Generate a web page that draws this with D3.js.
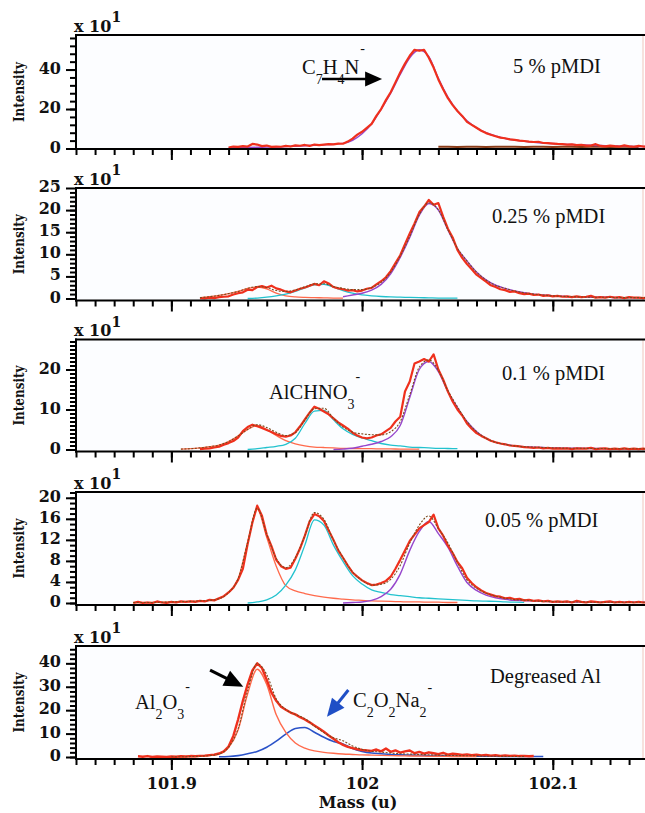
<!DOCTYPE html>
<html>
<head>
<meta charset="utf-8">
<script src="https://cdn.jsdelivr.net/npm/d3@7"></script>
<style>
  body { margin: 0; background: #fff; }
  .note { font-family: "Liberation Serif", "Times New Roman", serif; font-size: 20.5px; fill: #111; }
  .lab { font-family: "DejaVu Serif", serif; font-weight: bold; fill: #111; }
</style>
</head>
<body>
<svg id="chart" width="645" height="813"></svg>
<script>
var _ = null;

// mass grid of the measured spectra (u)
var massRaw = [
  101.88, 101.8825, 101.885, 101.8875, 101.89, 101.8925, 101.895, 101.8975, 101.9, 101.9025,
  101.905, 101.9075, 101.91, 101.9125, 101.915, 101.9175, 101.92, 101.9225, 101.925, 101.9275,
  101.93, 101.9325, 101.935, 101.9375, 101.94, 101.9425, 101.945, 101.9475, 101.95, 101.9525,
  101.955, 101.9575, 101.96, 101.9625, 101.965, 101.9675, 101.97, 101.9725, 101.975, 101.9775,
  101.98, 101.9825, 101.985, 101.9875, 101.99, 101.9925, 101.995, 101.9975, 102.0, 102.0025,
  102.005, 102.0075, 102.01, 102.0125, 102.015, 102.0175, 102.02, 102.0225, 102.025, 102.0275,
  102.03, 102.0325, 102.035, 102.0375, 102.04, 102.0425, 102.045, 102.0475, 102.05, 102.0525,
  102.055, 102.0575, 102.06, 102.0625, 102.065, 102.0675, 102.07, 102.0725, 102.075, 102.0775,
  102.08, 102.0825, 102.085, 102.0875, 102.09, 102.0925, 102.095, 102.0975, 102.1, 102.1025,
  102.105, 102.1075, 102.11, 102.1125, 102.115, 102.1175, 102.12, 102.1225, 102.125, 102.1275,
  102.13, 102.1325, 102.135, 102.1375, 102.14, 102.1425, 102.145, 102.1475, 102.15
];

// mass grid of the fitted peaks (u)
var massFit = [
  101.88, 101.885, 101.89, 101.895, 101.9, 101.905, 101.91, 101.915, 101.92, 101.925,
  101.93, 101.935, 101.94, 101.945, 101.95, 101.955, 101.96, 101.965, 101.97, 101.975,
  101.98, 101.985, 101.99, 101.995, 102.0, 102.005, 102.01, 102.015, 102.02, 102.025,
  102.03, 102.035, 102.04, 102.045, 102.05, 102.055, 102.06, 102.065, 102.07, 102.075,
  102.08, 102.085, 102.09, 102.095, 102.1, 102.105, 102.11, 102.115, 102.12, 102.125,
  102.13, 102.135, 102.14, 102.145, 102.15
];

// ---- 5 % pMDI (x 10 counts)
var raw5pct = [
  _, _, _, _, _, _, _, _, _, _,
  _, _, _, _, _, _, _, _, _, _,
  0.5, 1.0, 0.8, 1.2, 1.0, 2.3, 2.0, 1.2, 1.5, 0.8,
  1.0, 0.9, 1.3, 1.0, 1.6, 1.4, 1.8, 1.3, 2.0, 1.7,
  2.0, 2.2, 2.1, 2.5, 2.4, 3.5, 5.0, 7.0, 8.5, 10.5,
  12.5, 16.5, 20.0, 24.5, 28.5, 33.5, 38.5, 43.0, 47.0, 50.0,
  49.5, 50.0, 46.0, 41.0, 35.0, 30.0, 25.5, 22.0, 19.0, 16.5,
  13.5, 12.0, 10.5, 9.0, 7.8, 7.0, 6.2, 5.5, 5.2, 4.6,
  4.4, 4.0, 3.8, 3.5, 3.3, 3.4, 2.8, 2.7, 2.5, 2.3,
  2.2, 2.0, 2.1, 1.7, 1.9, 1.5, 1.5, 2.2, 1.3, 1.1,
  1.5, 1.2, 1.0, 1.6, 1.1, 0.9, 1.3, 1.0, 1.0
];
var c7h4n5pct = [
  _, _, _, _, _, _, _, _, _, _,
  0.3, 0.4, 0.5, 0.6, 0.7, 0.8, 1.0, 1.2, 1.4, 1.6,
  1.9, 2.2, 2.6, 4.2, 7.5, 12.5, 20.0, 28.0, 37.5, 46.0,
  50.0, 46.5, 35.5, 26.0, 19.0, 14.0, 10.5, 8.0, 6.3, 5.1,
  4.3, 3.7, 3.2, 2.8, 2.5, 2.2, 2.0, 1.8, 1.6, 1.5,
  1.3, 1.2, 1.1, 1.0, 1.0
];
var base5pct = [
  _, _, _, _, _, _, _, _, _, _,
  _, _, _, _, _, _, _, _, _, _,
  _, _, _, _, _, _, _, _, _, _,
  _, _, 0.9, 0.9, 0.8, 0.9, 0.9, 0.8, 0.9, 0.9,
  0.9, 0.8, 0.9, 0.9, 0.8, 0.9, 0.9, 0.8, 0.9, 0.9,
  0.8, 0.9, 0.9, 0.8, _
];

// ---- 0.25 % pMDI
var raw025 = [
  _, _, _, _, _, _, _, _, _, _,
  _, _, _, _, 0.1, 0.0, 0.2, 0.1, 0.3, 0.4,
  0.5, 0.9, 1.2, 1.4, 2.0, 1.9, 2.6, 2.8, 2.5, 2.9,
  2.3, 2.0, 1.6, 1.4, 1.8, 2.2, 2.5, 2.9, 3.3, 3.0,
  3.9, 3.4, 2.6, 2.3, 2.1, 1.8, 1.9, 1.6, 1.8, 2.2,
  2.4, 3.2, 3.9, 4.8, 6.2, 8.0, 9.8, 12.3, 14.7, 17.0,
  19.5, 20.8, 22.3, 21.2, 21.6, 18.5, 15.8, 13.8, 11.0, 9.2,
  7.8, 6.6, 5.4, 4.6, 3.8, 3.0, 2.6, 2.1, 1.9, 1.5,
  1.6, 1.2, 1.0, 1.1, 0.8, 0.9, 0.6, 0.7, 0.5, 0.6,
  0.4, 0.5, 0.3, 0.5, 0.3, 0.4, 0.6, 0.2, 0.3, 0.2,
  0.4, 0.2, 0.3, 0.1, 0.3, 0.2, 0.2, 0.1, 0.2
];
var al2o3025 = [
  _, _, _, _, _, _, _, 0.2, 0.4, 0.7,
  1.1, 1.6, 2.3, 2.6, 2.2, 1.2, 0.6, 0.35, 0.25, 0.2,
  0.15, 0.1, 0.1, _, _, _, _, _, _, _,
  _, _, _, _, _, _, _, _, _, _,
  _, _, _, _, _, _, _, _, _, _,
  _, _, _, _, _
];
var alchno3025 = [
  _, _, _, _, _, _, _, _, _, _,
  _, _, 0.0, 0.1, 0.3, 0.6, 1.0, 1.6, 2.4, 3.1,
  3.2, 2.6, 1.8, 1.2, 0.8, 0.6, 0.45, 0.35, 0.3, 0.25,
  0.2, 0.15, 0.1, 0.1, 0.1, _, _, _, _, _,
  _, _, _, _, _, _, _, _, _, _,
  _, _, _, _, _
];
var c7h4n025 = [
  _, _, _, _, _, _, _, _, _, _,
  _, _, _, _, _, _, _, _, _, _,
  _, _, 0.4, 0.8, 1.2, 1.9, 3.2, 5.6, 9.3, 13.8,
  18.8, 21.5, 20.0, 15.5, 11.3, 8.5, 6.0, 4.2, 3.0, 2.3,
  1.7, 1.3, 1.0, 0.8, 0.6, 0.5, 0.4, 0.35, 0.3, 0.3,
  0.25, 0.2, 0.2, 0.2, 0.2
];
var sum025 = [
  _, _, _, _, _, _, _, 0.2, 0.4, 0.7,
  1.1, 1.6, 2.3, 2.7, 2.5, 1.8, 1.6, 1.95, 2.65, 3.3,
  3.35, 2.7, 2.3, 2.0, 2.0, 2.5, 3.65, 5.95, 9.6, 14.05,
  19.0, 21.65, 20.1, 15.6, 11.4, 8.5, 6.0, 4.2, 3.0, 2.3,
  1.7, 1.3, 1.0, 0.8, 0.6, 0.5, 0.4, 0.35, 0.3, 0.3,
  0.25, 0.2, 0.2, 0.2, 0.2
];

// ---- 0.1 % pMDI
var raw01 = [
  _, _, _, _, _, _, _, _, _, _,
  _, _, _, _, 0.1, 0.2, 0.3, 0.5, 0.7, 1.2,
  1.6, 2.1, 3.0, 4.6, 5.6, 6.2, 5.8, 5.4, 4.9, 4.4,
  3.8, 3.4, 3.2, 3.5, 4.3, 5.8, 7.5, 9.2, 10.7, 10.2,
  9.5, 8.8, 7.8, 6.8, 6.0, 5.2, 4.2, 3.5, 3.0, 2.8,
  3.0, 3.5, 3.8, 4.6, 5.4, 7.0, 8.2, 14.5, 17.0, 21.5,
  22.0, 22.6, 22.0, 23.8, 20.0, 17.5, 14.5, 12.0, 10.0, 8.5,
  6.5, 5.2, 4.1, 3.4, 2.8, 2.2, 1.8, 1.5, 1.3, 1.0,
  0.9, 0.8, 0.6, 0.5, 0.4, 0.5, 0.3, 0.4, 0.2, 0.3,
  0.2, 0.3, 0.1, 0.3, 0.2, 0.2, 0.4, 0.1, 0.2, 0.3,
  0.1, 0.2, 0.1, 0.3, 0.1, 0.2, 0.1, 0.2, 0.1
];
var al2o301 = [
  _, _, _, _, _, 0.1, 0.2, 0.4, 0.7, 1.1,
  2.0, 3.4, 5.0, 6.0, 5.0, 3.5, 2.2, 1.4, 0.9, 0.6,
  0.5, 0.4, 0.3, 0.25, 0.2, 0.2, 0.15, 0.15, 0.1, 0.1,
  0.1, _, _, _, _, _, _, _, _, _,
  _, _, _, _, _, _, _, _, _, _,
  _, _, _, _, _
];
var alchno301 = [
  _, _, _, _, _, _, _, _, _, _,
  _, _, 0.0, 0.2, 0.5, 0.8, 1.3, 2.8, 6.5, 9.6,
  9.8, 7.4, 5.2, 3.8, 2.9, 2.2, 1.5, 1.1, 0.9, 0.6,
  0.5, 0.4, 0.3, 0.25, 0.2, _, _, _, _, _,
  _, _, _, _, _, _, _, _, _, _,
  _, _, _, _, _
];
var c7h4n01 = [
  _, _, _, _, _, _, _, _, _, _,
  _, _, _, _, _, _, _, _, _, _,
  _, 0.0, 0.1, 0.3, 0.8, 1.3, 2.0, 3.2, 6.0, 13.0,
  20.0, 22.0, 19.5, 14.5, 10.5, 7.0, 4.5, 2.8, 1.8, 1.3,
  0.9, 0.7, 0.6, 0.5, 0.4, 0.35, 0.3, 0.3, 0.25, 0.25,
  0.2, 0.2, 0.2, 0.2, 0.2
];
var sum01 = [
  _, _, _, _, _, 0.1, 0.2, 0.4, 0.7, 1.1,
  2.0, 3.4, 5.0, 6.2, 5.5, 4.3, 3.5, 4.2, 7.4, 10.2,
  10.3, 7.8, 5.6, 4.35, 3.9, 3.7, 3.65, 4.45, 7.0, 13.7,
  20.6, 22.4, 19.8, 14.75, 10.7, 7.0, 4.5, 2.8, 1.8, 1.3,
  0.9, 0.7, 0.6, 0.5, 0.4, 0.35, 0.3, 0.3, 0.25, 0.25,
  0.2, 0.2, 0.2, 0.2, 0.2
];

// ---- 0.05 % pMDI
var raw005 = [
  0.0, 0.2, 0.0, 0.1, 0.0, 0.3, 0.1, 0.0, 0.2, 0.1,
  0.3, 0.2, 0.3, 0.2, 0.4, 0.3, 0.6, 0.5, 0.9, 1.3,
  2.0, 2.9, 4.4, 6.5, 11.2, 15.3, 18.5, 16.6, 13.0, 10.8,
  8.2, 7.0, 6.5, 6.7, 8.4, 10.4, 12.8, 15.5, 16.9, 16.5,
  15.6, 13.8, 12.0, 10.0, 8.6, 7.1, 5.8, 5.0, 4.3, 3.8,
  3.4, 3.5, 3.8, 4.2, 5.0, 6.5, 8.2, 10.0, 11.8, 13.0,
  14.2, 14.8, 15.4, 16.8, 14.2, 12.8, 10.9, 9.5, 7.8, 6.6,
  4.8, 3.8, 3.0, 2.4, 1.9, 1.6, 1.3, 1.2, 0.9, 1.0,
  0.7, 0.8, 0.5, 0.6, 0.4, 0.5, 0.3, 0.4, 0.2, 0.3,
  0.2, 0.3, 0.1, 0.4, 0.2, 0.1, 0.3, 0.2, 0.1, 0.2,
  0.3, 0.1, 0.2, 0.1, 0.2, 0.1, 0.2, 0.1, 0.1
];
var al2o3005 = [
  0.1, 0.1, 0.1, 0.15, 0.2, 0.25, 0.3, 0.4, 0.5, 0.8,
  2.0, 4.6, 11.5, 17.8, 12.5, 7.0, 3.3, 2.3, 1.8, 1.4,
  1.1, 0.9, 0.75, 0.6, 0.5, 0.4, 0.35, 0.3, 0.25, 0.2,
  0.2, 0.15, 0.15, 0.1, 0.1, _, _, _, _, _,
  _, _, _, _, _, _, _, _, _, _,
  _, _, _, _, _
];
var alchno3005 = [
  _, _, _, _, _, _, _, _, _, _,
  _, _, 0.0, 0.2, 0.6, 1.5, 3.4, 6.3, 11.0, 15.8,
  14.8, 11.0, 7.9, 5.2, 3.6, 2.5, 2.0, 1.6, 1.4, 1.2,
  1.0, 0.9, 0.8, 0.7, 0.6, 0.5, 0.4, 0.35, 0.3, 0.2,
  0.15, 0.1, _, _, _, _, _, _, _, _,
  _, _, _, _, _
];
var c7h4n005 = [
  _, _, _, _, _, _, _, _, _, _,
  _, _, _, _, _, _, _, _, _, _,
  _, _, 0.0, 0.1, 0.2, 0.5, 1.2, 2.6, 5.5, 10.0,
  13.6, 15.5, 13.2, 10.6, 7.0, 3.9, 2.4, 1.5, 1.0, 0.7,
  0.5, 0.45, 0.4, 0.3, 0.25, 0.2, 0.2, 0.2, 0.15, 0.15,
  0.15, 0.15, 0.15, 0.15, 0.15
];
var sum005 = [
  0.1, 0.1, 0.1, 0.15, 0.2, 0.25, 0.3, 0.4, 0.5, 0.8,
  2.0, 4.6, 11.5, 18.0, 13.1, 8.5, 6.7, 8.6, 12.8, 17.2,
  15.9, 11.9, 8.65, 5.9, 4.3, 3.4, 3.55, 4.5, 7.15, 11.4,
  14.8, 16.55, 14.15, 11.4, 7.7, 4.4, 2.8, 1.85, 1.3, 0.9,
  0.65, 0.55, 0.4, 0.3, 0.25, 0.2, 0.2, 0.2, 0.15, 0.15,
  0.15, 0.15, 0.15, 0.15, 0.15
];

// ---- degreased Al
var rawAl = [
  _, 0.3, 0.1, 0.4, 0.0, 0.2, 0.1, 0.0, 0.2, 0.1,
  0.3, 0.2, 0.4, 0.3, 0.5, 0.6, 0.8, 1.0, 1.5, 2.4,
  4.5, 9.0, 16.0, 24.0, 31.0, 37.0, 40.0, 38.0, 33.0, 27.5,
  24.0, 21.5, 20.2, 19.0, 18.2, 17.0, 16.0, 14.8, 13.5, 12.2,
  10.8, 9.2, 7.8, 6.3, 5.2, 4.3, 3.8, 3.3, 3.0, 2.8,
  2.6, 3.2, 2.4, 3.6, 2.2, 2.8, 1.9, 2.4, 2.8, 1.6,
  2.2, 1.4, 2.0, 1.6, 1.2, 1.8, 1.0, 1.4, 1.2, 0.9,
  1.1, 0.8, 1.0, 0.7, 0.9, 0.6, 0.8, 0.5, 0.7, 0.5,
  0.6, 0.4, 0.5, 0.3, 0.4, _, _, _, _, _,
  _, _, _, _, _, _, _, _, _, _,
  _, _, _, _, _, _, _, _, _
];
var al2o3Al = [
  _, _, _, _, 0.1, 0.1, 0.2, 0.3, 0.6, 1.2,
  4.0, 11.5, 27.0, 37.5, 31.0, 18.0, 10.5, 6.0, 3.8, 2.6,
  2.0, 1.6, 1.3, 1.1, 0.9, 0.8, 0.7, 0.6, 0.5, 0.45,
  0.4, 0.35, 0.3, 0.25, 0.2, 0.2, 0.2, _, _, _,
  _, _, _, _, _, _, _, _, _, _,
  _, _, _, _, _
];
var c2o2na2Al = [
  _, _, _, _, _, _, _, _, _, 0.1,
  0.2, 0.6, 1.4, 2.4, 4.2, 6.8, 9.8, 12.2, 12.6, 10.6,
  8.4, 6.6, 5.6, 3.6, 2.4, 1.7, 1.4, 1.1, 0.9, 0.8,
  0.7, 0.6, 0.5, 0.45, 0.4, 0.35, 0.3, 0.3, 0.3, 0.25,
  0.2, 0.2, 0.2, 0.2, _, _, _, _, _, _,
  _, _, _, _, _
];
var sumAl = [
  _, _, _, _, 0.1, 0.1, 0.2, 0.3, 0.6, 1.3,
  4.2, 12.1, 28.4, 39.9, 35.2, 24.8, 20.3, 18.2, 16.4, 13.2,
  10.4, 8.2, 6.9, 4.7, 3.3, 2.5, 2.1, 1.7, 1.4, 1.25,
  1.1, 0.95, 0.8, 0.7, 0.6, 0.55, 0.5, 0.3, 0.3, 0.25,
  0.2, 0.2, _, _, _, _, _, _, _, _,
  _, _, _, _, _
];

var panelNames = ["5 % pMDI", "0.25 % pMDI", "0.1 % pMDI", "0.05 % pMDI", "Degreased Al"];
var yTicks5pct = [0, 20, 40];
var yTicks025 = [0, 5, 10, 15, 20, 25];
var yTicks01 = [0, 10, 20];
var yTicks005 = [0, 4, 8, 12, 16, 20];
var yTicksAl = [0, 10, 20, 30, 40];
var xTickValues = [101.9, 102.0, 102.1];
var xTickLabels = ["101.9", "102", "102.1"];

var col = {
  raw: "#ef301d", al: "#ff6a4c", cyan: "#22c2ce", purple: "#9646cc",
  brown: "#7b4a1c", blue: "#2a52c8", base: "#8a3c18"
};

var panels = [
  { name: panelNames[0], top: 35, bottom: 149, ymin: -0.25, ymax: 57.5, ticks: yTicks5pct, minor: 4,
    series: [
      { m: massFit, v: base5pct, c: col.base, w: 2 },
      { m: massFit, v: c7h4n5pct, c: col.purple, w: 1.5, smooth: true },
      { m: massRaw, v: raw5pct, c: col.raw, w: 2.2 }
    ],
    notes: [
      { formula: [["C", 0], ["7", -1], ["H", 0], ["4", -1], ["N", 0], ["-", 1]], m: 101.9685, v: 37.7, sup: 21 },
      { arrow: [101.979, 35.2, 102.0105, 35.2], c: "#000", w: 2.5, hl: 17, hw: 15 },
      { text: panelNames[0], m: 102.0792, v: 38.2 }
    ] },
  { name: panelNames[1], top: 188, bottom: 300.5, ymin: -0.45, ymax: 25.0, ticks: yTicks025, minor: 1,
    series: [
      { m: massFit, v: al2o3025, c: col.al, w: 1.3, smooth: true },
      { m: massFit, v: alchno3025, c: col.cyan, w: 1.3, smooth: true },
      { m: massFit, v: c7h4n025, c: col.purple, w: 1.4, smooth: true },
      { m: massRaw, v: raw025, c: col.raw, w: 2.2 },
      { m: massFit, v: sum025, c: col.brown, w: 1.1, smooth: true, dash: "2,1.5" }
    ],
    notes: [{ text: panelNames[1], m: 102.0681, v: 17.1 }] },
  { name: panelNames[2], top: 339.5, bottom: 451.5, ymin: -0.5, ymax: 27.5, ticks: yTicks01, minor: 1,
    series: [
      { m: massFit, v: al2o301, c: col.al, w: 1.3, smooth: true },
      { m: massFit, v: alchno301, c: col.cyan, w: 1.3, smooth: true },
      { m: massFit, v: c7h4n01, c: col.purple, w: 1.4, smooth: true },
      { m: massRaw, v: raw01, c: col.raw, w: 2.2 },
      { m: massFit, v: sum01, c: col.brown, w: 1.1, smooth: true, dash: "2,1.5" }
    ],
    notes: [
      { formula: [["AlCHNO", 0], ["3", -1], ["-", 1]], m: 101.9512, v: 12.6, sup: 18 },
      { text: panelNames[2], m: 102.0734, v: 17.4 }
    ] },
  { name: panelNames[3], top: 492, bottom: 605, ymin: -0.38, ymax: 21.1, ticks: yTicks005, minor: 1,
    series: [
      { m: massFit, v: al2o3005, c: col.al, w: 1.3, smooth: true },
      { m: massFit, v: alchno3005, c: col.cyan, w: 1.3, smooth: true },
      { m: massFit, v: c7h4n005, c: col.purple, w: 1.4, smooth: true },
      { m: massRaw, v: raw005, c: col.raw, w: 2.2 },
      { m: massFit, v: sum005, c: col.brown, w: 1.1, smooth: true, dash: "2,1.5" }
    ],
    notes: [{ text: panelNames[3], m: 102.0645, v: 14.4 }] },
  { name: panelNames[4], top: 646, bottom: 759, ymin: -0.85, ymax: 47.4, ticks: yTicksAl, minor: 2,
    series: [
      { m: massFit, v: c2o2na2Al, c: col.blue, w: 1.6, smooth: true },
      { m: massFit, v: al2o3Al, c: col.al, w: 1.4, smooth: true },
      { m: massRaw, v: rawAl, c: col.raw, w: 2.4 },
      { m: massFit, v: sumAl, c: col.brown, w: 1.1, smooth: true, dash: "2,1.5" }
    ],
    notes: [
      { text: panelNames[4], m: 102.0671, v: 31.6 },
      { formula: [["Al", 0], ["2", -1], ["O", 0], ["3", -1], ["-", 1]], m: 101.8809, v: 20.5, sup: 18 },
      { formula: [["C", 0], ["2", -1], ["O", 0], ["2", -1], ["Na", 0], ["2", -1], ["-", 1]], m: 101.9953, v: 21.5, sup: 15 },
      { arrow: [101.9203, 37.1, 101.9377, 30.0], c: "#000", w: 3, hl: 19, hw: 17 },
      { arrow: [101.9928, 28.6, 101.9816, 17.2], c: "#1f4fc6", w: 3, hl: 18, hw: 16 }
    ] }
];

var svg = d3.select("#chart");
var x = d3.scaleLinear().domain([101.85, 102.1473]).range([76, 643]);
var xMinor = d3.range(0, 30).map(i => 101.85 + i * 0.01);

function arrow(g, x1, y1, x2, y2, color, w, hl, hw) {
  var a = Math.atan2(y2 - y1, x2 - x1);
  var bx = x2 - hl * Math.cos(a), by = y2 - hl * Math.sin(a);
  var px = -Math.sin(a) * hw / 2, py = Math.cos(a) * hw / 2;
  g.append("line")
    .attr("x1", x1).attr("y1", y1).attr("x2", bx + 2 * Math.cos(a)).attr("y2", by + 2 * Math.sin(a))
    .attr("stroke", color).attr("stroke-width", w);
  g.append("path")
    .attr("d", "M" + x2 + "," + y2 + "L" + (bx + px) + "," + (by + py) + "L" + (bx - px) + "," + (by - py) + "Z")
    .attr("fill", color);
}

function styleAxis(sel) {
  sel.select(".domain").remove();
  sel.selectAll(".tick line").attr("stroke", "#000").attr("stroke-width", 2);
  sel.attr("font-family", "DejaVu Serif, serif").attr("font-size", 16).attr("font-weight", "bold");
  sel.selectAll("text").attr("fill", "#111");
}

panels.forEach(function(p, i) {
  var y = d3.scaleLinear().domain([p.ymin, p.ymax]).range([p.bottom, p.top]);
  var g = svg.append("g");

  g.append("rect")
    .attr("x", 76).attr("y", p.top)
    .attr("width", 567).attr("height", p.bottom - p.top)
    .attr("fill", "#fcfdff");
  g.append("line")
    .attr("x1", 643).attr("x2", 643).attr("y1", p.top).attr("y2", p.bottom)
    .attr("stroke", "#efc6bd").attr("stroke-width", 1);

  // spectra: raw counts jagged, fitted peaks smooth
  p.series.forEach(function(s) {
    var pts = s.m.map((m, k) => [m, s.v[k]]);
    var line = d3.line()
      .defined(d => d[1] != null)
      .x(d => x(d[0]))
      .y(d => y(d[1]))
      .curve(s.smooth ? d3.curveMonotoneX : d3.curveLinear);
    g.append("path")
      .attr("d", line(pts))
      .attr("fill", "none")
      .attr("stroke", s.c)
      .attr("stroke-width", s.w)
      .attr("stroke-linejoin", "round")
      .attr("stroke-dasharray", s.dash || null);
  });

  // frame
  g.append("line")
    .attr("x1", 75).attr("x2", 645).attr("y1", p.top).attr("y2", p.top)
    .attr("stroke", "#000").attr("stroke-width", 2);

  g.append("g")
    .attr("transform", "translate(0," + p.bottom + ")")
    .call(d3.axisBottom(x).tickValues(xMinor).tickSize(6).tickFormat(""))
    .call(styleAxis);
  g.append("g")
    .attr("transform", "translate(0," + p.bottom + ")")
    .call(d3.axisBottom(x).tickValues(xTickValues).tickSize(11).tickPadding(8)
      .tickFormat((d, j) => i === panels.length - 1 ? xTickLabels[j] : ""))
    .call(styleAxis);
  g.append("line")
    .attr("x1", 75).attr("x2", 645).attr("y1", p.bottom).attr("y2", p.bottom)
    .attr("stroke", "#000").attr("stroke-width", 2);

  g.append("g")
    .attr("transform", "translate(76,0)")
    .call(d3.axisLeft(y).tickValues(d3.range(0, p.ymax, p.minor)).tickSize(6).tickFormat(""))
    .call(styleAxis);
  g.append("g")
    .attr("transform", "translate(76,0)")
    .call(d3.axisLeft(y).tickValues(p.ticks).tickSize(10).tickPadding(5))
    .call(styleAxis)
    .selectAll("text").attr("dy", "0.22em");
  g.append("line")
    .attr("x1", 76).attr("x2", 76).attr("y1", p.top - 1).attr("y2", p.bottom + 1)
    .attr("stroke", "#000").attr("stroke-width", 2);

  // scale factor
  var sf = g.append("text").attr("class", "lab").attr("font-size", 16)
    .attr("x", 74).attr("y", p.top - 3.5);
  sf.append("tspan").text("x 10");
  sf.append("tspan").attr("font-size", 14).attr("y", p.top - 13).text("1");

  g.append("text")
    .attr("class", "lab")
    .attr("font-size", 14)
    .attr("text-anchor", "middle")
    .attr("textLength", 60)
    .attr("lengthAdjust", "spacingAndGlyphs")
    .attr("transform", "translate(24," + ((p.top + p.bottom) / 2) + ") rotate(-90)")
    .text("Intensity");

  // annotations
  p.notes.forEach(function(n) {
    if (n.text) {
      g.append("text").attr("class", "note")
        .attr("x", x(n.m)).attr("y", y(n.v)).text(n.text);
    } else if (n.formula) {
      var bx = x(n.m), by = y(n.v);
      var t = g.append("text").attr("class", "note").attr("x", bx).attr("y", by);
      n.formula.forEach(function(part) {
        var s = t.append("tspan").text(part[0]);
        if (part[1] < 0) s.attr("y", by + 10).attr("font-size", 14);
        else if (part[1] > 0) s.attr("y", by - n.sup).attr("font-size", 14).attr("dx", 1);
        else s.attr("y", by);
      });
    } else if (n.arrow) {
      arrow(g, x(n.arrow[0]), y(n.arrow[1]), x(n.arrow[2]), y(n.arrow[3]), n.c, n.w, n.hl, n.hw);
    }
  });
});

svg.append("text")
  .attr("class", "lab")
  .attr("font-size", 16)
  .attr("text-anchor", "middle")
  .attr("x", 358).attr("y", 808)
  .text("Mass (u)");
</script>
</body>
</html>
